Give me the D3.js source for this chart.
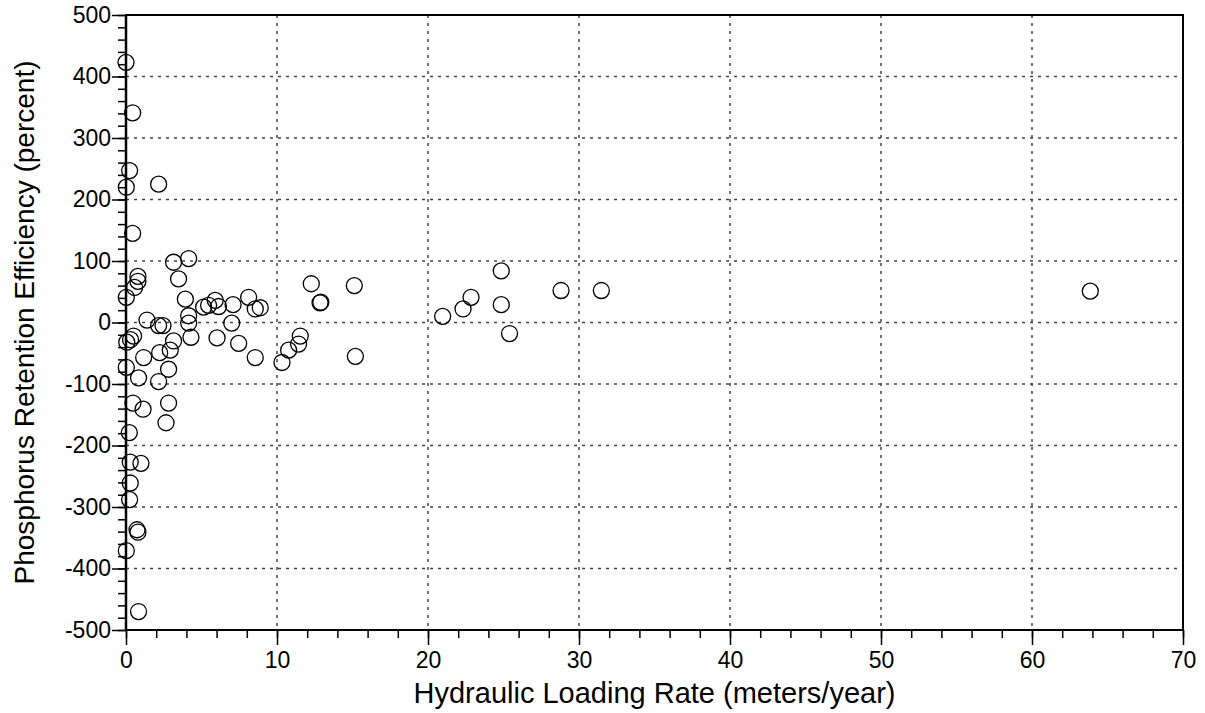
<!DOCTYPE html>
<html>
<head>
<meta charset="utf-8">
<script src="https://cdn.jsdelivr.net/npm/d3@7"></script>
<style>
  body { margin: 0; background: #fff; }
  svg text { font-family: "Liberation Sans", Arial, sans-serif; fill: #000; }
</style>
</head>
<body>
<div id="chart"></div>
<script>
// hydraulic loading rate (m/yr) and P retention efficiency (%)
var loadingRate = [0.0, 0.44, 0.24, 0.02, 2.16, 0.44, 4.15, 3.15, 3.48, 0.79,
    0.79, 0.57, 0.02, 3.93, 5.14, 5.47, 5.91, 6.13, 7.09, 8.12,
    8.56, 8.89, 1.39, 2.16, 2.45, 4.15, 4.15, 7.0, 0.05, 0.5,
    0.3, 4.3, 6.03, 7.46, 8.56, 10.33, 10.77, 11.43, 11.54, 3.15,
    2.93, 2.23, 1.17, 0.02, 0.83, 2.82, 2.16, 0.46, 1.13, 2.82,
    2.65, 0.22, 0.28, 0.99, 0.28, 0.24, 0.73, 0.79, 0.02, 0.83,
    12.27, 12.85, 12.9, 15.12, 15.19, 20.97, 22.32, 22.85, 24.85, 24.85,
    25.4, 28.81, 31.48, 63.86];
var retention = [423, 341, 247, 220, 225, 145, 104, 98, 71, 75,
    67, 57, 41, 38, 25, 28, 36, 26, 29, 41,
    22, 24, 4, -5, -5, 11, -1, -1, -32, -22,
    -28, -24, -25, -34, -57, -65, -45, -35, -22, -30,
    -45, -49, -57, -73, -90, -76, -96, -131, -141, -131,
    -163, -179, -227, -229, -261, -288, -337, -341, -371, -470,
    63, 32, 33, 60, -55, 10, 22, 41, 84, 29,
    -18, 52, 52, 51];

var xTicks = [0, 10, 20, 30, 40, 50, 60, 70];
var yTicks = [-500, -400, -300, -200, -100, 0, 100, 200, 300, 400, 500];
var xMinor = d3.range(0, 70.1, 2);
var yMinor = d3.range(-500, 500.1, 20);

var points = loadingRate.map(function(d, i) { return {x: d, y: retention[i]}; });

var W = 1205, H = 713;
var margin = {top: 15, right: 22, bottom: 83, left: 126};
var width = W - margin.left - margin.right;
var height = H - margin.top - margin.bottom;

var svg = d3.select("#chart").append("svg")
    .attr("width", W)
    .attr("height", H);

var g = svg.append("g")
    .attr("transform", "translate(" + margin.left + "," + margin.top + ")");

var x = d3.scaleLinear().domain([0, 70]).range([0, width]);
var y = d3.scaleLinear().domain([-500, 500]).range([height, 0]);

// dotted grid
g.selectAll(".vgrid")
    .data(xTicks.filter(function(d) { return d > 0 && d < 70; }))
    .enter().append("line")
    .attr("x1", function(d) { return x(d); })
    .attr("x2", function(d) { return x(d); })
    .attr("y1", 0)
    .attr("y2", height)
    .attr("stroke", "#444")
    .attr("stroke-width", 1.5)
    .attr("stroke-dasharray", "3,5");

g.selectAll(".hgrid")
    .data(yTicks.filter(function(d) { return d > -500 && d < 500; }))
    .enter().append("line")
    .attr("x1", 0)
    .attr("x2", width)
    .attr("y1", function(d) { return y(d); })
    .attr("y2", function(d) { return y(d); })
    .attr("stroke", "#444")
    .attr("stroke-width", 1.5)
    .attr("stroke-dasharray", "3,5");

// minor ticks
g.append("g")
    .attr("class", "axis")
    .attr("transform", "translate(0," + height + ")")
    .call(d3.axisBottom(x).tickValues(xMinor).tickSize(8).tickFormat(""));
g.append("g")
    .attr("class", "axis")
    .call(d3.axisLeft(y).tickValues(yMinor).tickSize(8).tickFormat(""));

// major ticks + labels (plain hyphen for negatives)
var xAxis = g.append("g")
    .attr("class", "axis")
    .attr("transform", "translate(0," + height + ")")
    .call(d3.axisBottom(x).tickValues(xTicks).tickSize(15).tickFormat(function(d) { return String(d); }));
xAxis.selectAll("text").attr("dy", "0.95em").attr("y", 16).style("font-size", "23px");

var yAxis = g.append("g")
    .attr("class", "axis")
    .call(d3.axisLeft(y).tickValues(yTicks).tickSize(14).tickFormat(function(d) { return String(d); }));
yAxis.selectAll("text").attr("x", -15).style("font-size", "23px");

g.selectAll(".axis .domain").remove();
g.selectAll(".axis line").attr("stroke", "#000").attr("stroke-width", 1.5);

// frame
g.append("rect")
    .attr("x", 0)
    .attr("y", 0)
    .attr("width", width)
    .attr("height", height)
    .attr("fill", "none")
    .attr("stroke", "#000")
    .attr("stroke-width", 2);

g.append("line")
    .attr("x1", 0).attr("x2", 0)
    .attr("y1", 0).attr("y2", height)
    .attr("stroke", "#000")
    .attr("stroke-width", 2.5);

// points
g.selectAll(".dot")
    .data(points)
    .enter().append("circle")
    .attr("cx", function(d) { return x(d.x); })
    .attr("cy", function(d) { return y(d.y); })
    .attr("r", 8)
    .attr("fill", "none")
    .attr("stroke", "#000")
    .attr("stroke-width", 1.3);

// axis titles
svg.append("text")
    .attr("x", margin.left + width / 2)
    .attr("y", 703)
    .style("text-anchor", "middle")
    .style("font-size", "29px")
    .text("Hydraulic Loading Rate (meters/year)");

svg.append("text")
    .attr("transform", "rotate(-90)")
    .attr("x", -(margin.top + height / 2))
    .attr("y", 34)
    .style("text-anchor", "middle")
    .style("font-size", "28px")
    .text("Phosphorus Retention Efficiency (percent)");
</script>
</body>
</html>
